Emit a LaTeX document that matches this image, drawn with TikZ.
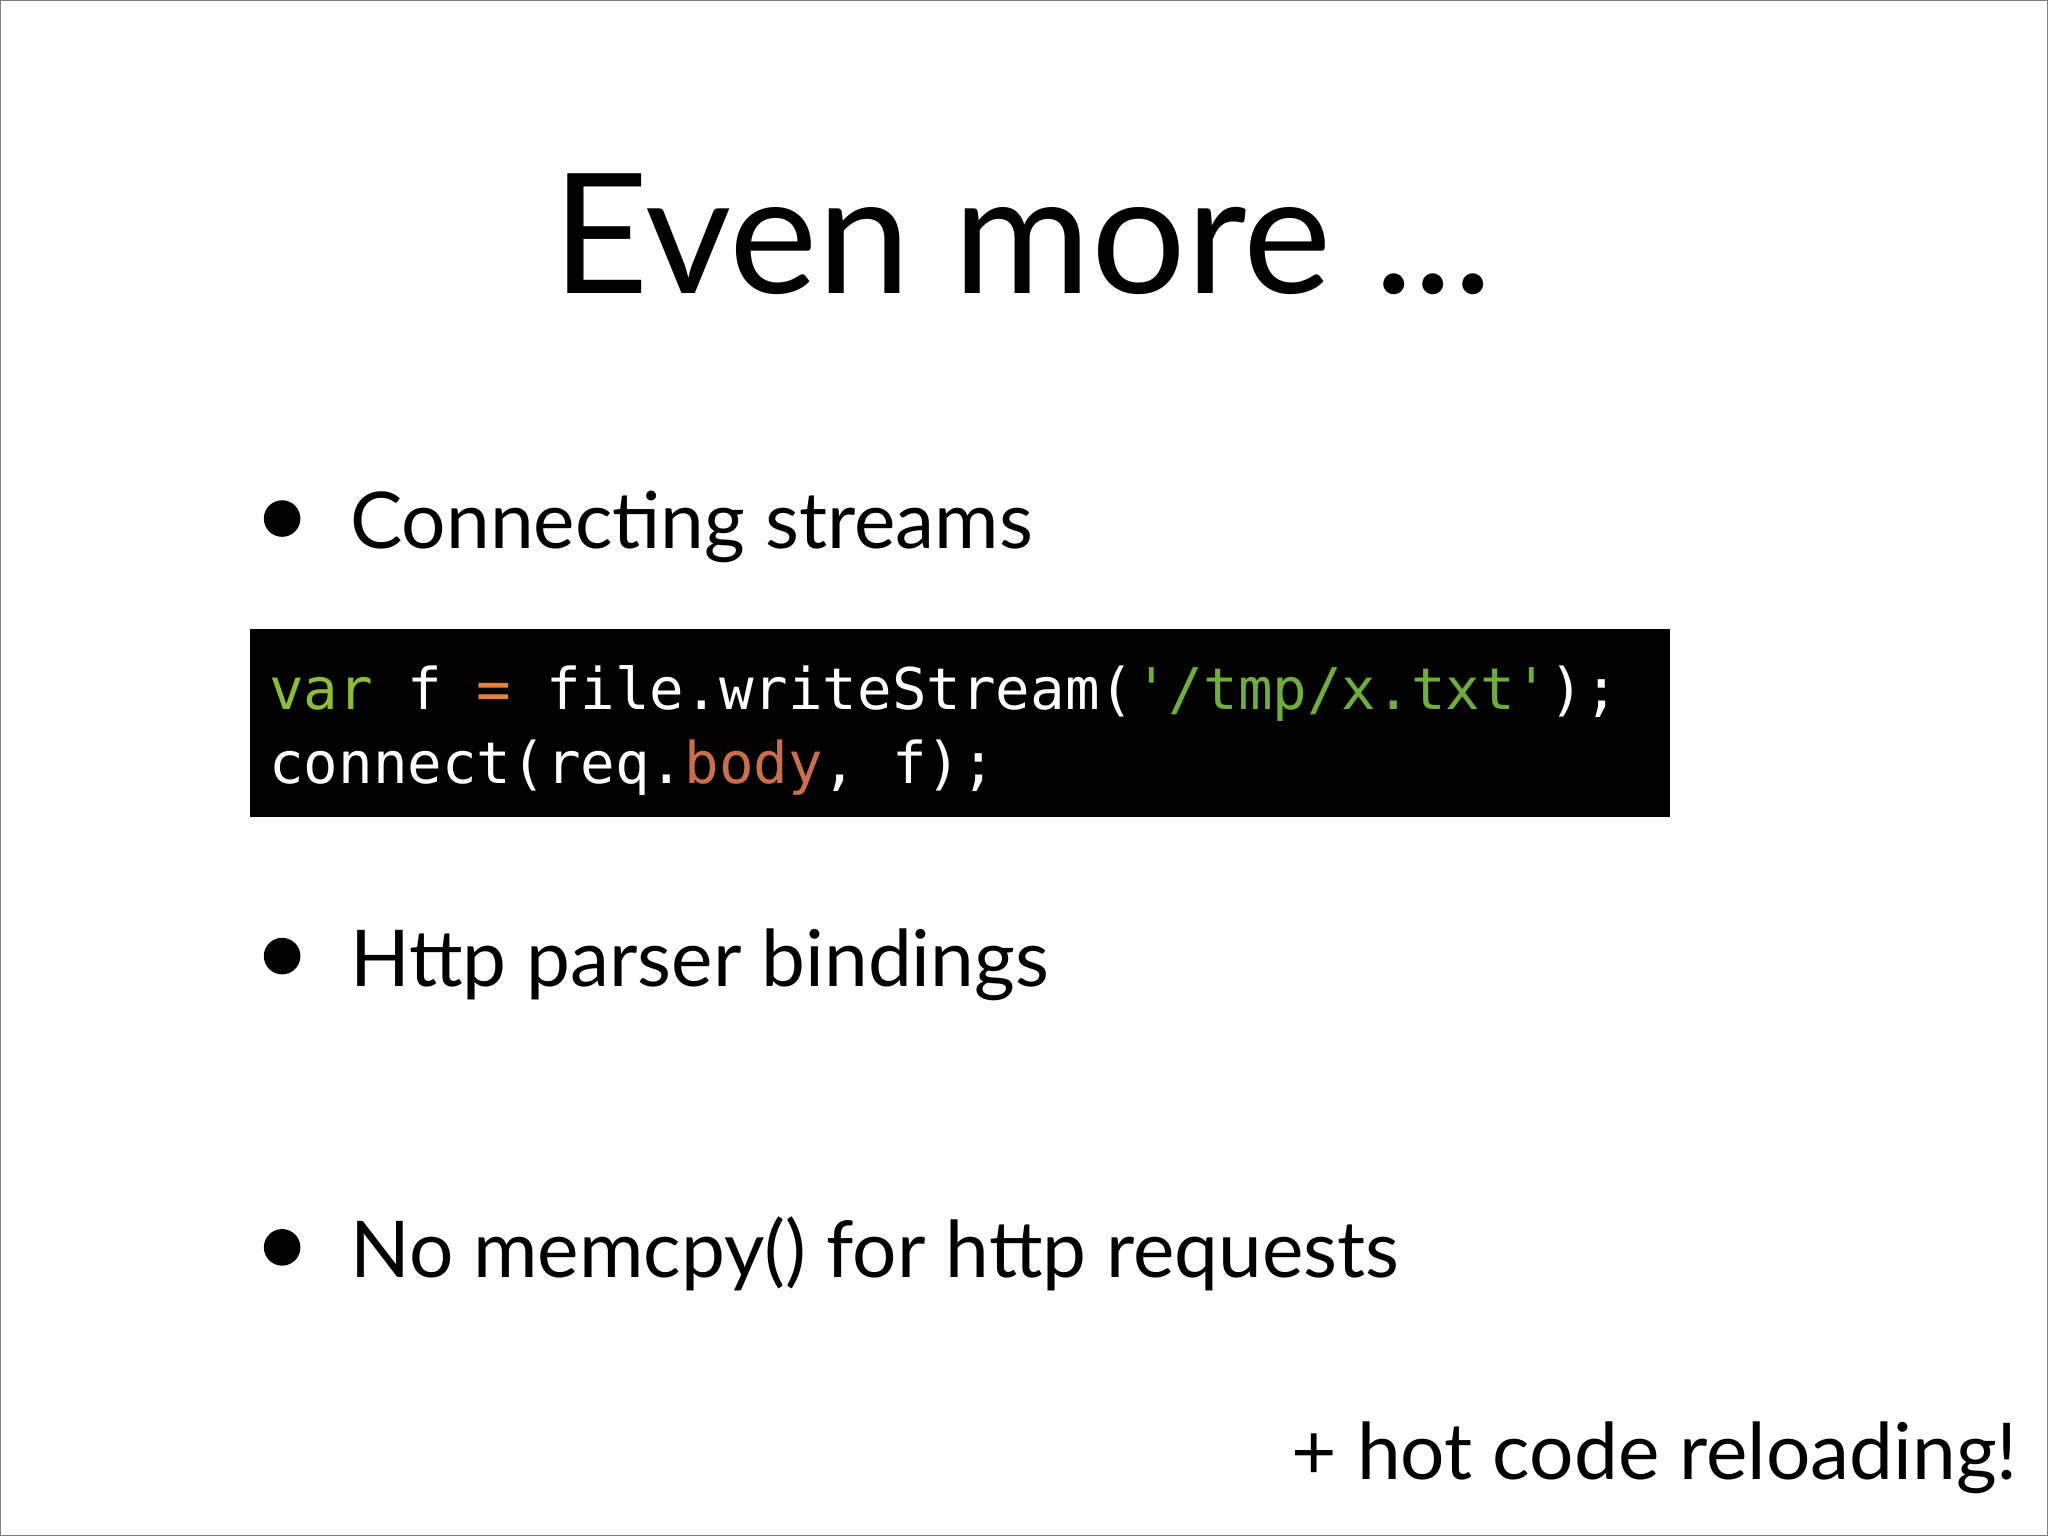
\documentclass[tikz,border=0pt]{standalone}
\usepackage{fontspec}
\setmainfont{Lato}
\setmonofont{DejaVu Sans Mono}
\definecolor{kw}{RGB}{140,190,50}
\definecolor{str}{RGB}{110,175,60}
\definecolor{op}{RGB}{230,130,60}
\definecolor{prop}{RGB}{205,110,75}
\begin{document}
\begin{tikzpicture}[x=1pt,y=-1pt,
  body/.style={anchor=base west,inner sep=0pt,font=\fontsize{60}{70}\selectfont},
  dot/.style={circle,fill=black,inner sep=0pt,minimum size=28pt}]
\useasboundingbox (0,0) rectangle (1568,1176);
\draw[gray,line width=1pt] (0.5,0.5) rectangle (1567.5,1175.5);
\node[anchor=base,inner sep=0pt,font=\fontsize{128}{140}\selectfont] (title) at (783,225) {Even more ...};
\node[dot] (b1) at (216,397) {};
\node[body] (t1) at (268,420) {Connecting streams};
\node[fill=black,minimum width=1087pt,minimum height=144pt,anchor=north west,inner sep=0pt] (code) at (191,481) {};
\node[anchor=base west,inner sep=0pt,text=white,font=\ttfamily\fontsize{44}{58}\selectfont] (c1) at (206,543) {\textcolor{kw}{var} f \textcolor{op}{=} file.writeStream(\textcolor{str}{'/tmp/x.txt'});};
\node[anchor=base west,inner sep=0pt,text=white,font=\ttfamily\fontsize{44}{58}\selectfont] (c2) at (206,600) {connect(req.\textcolor{prop}{body}, f);};
\node[dot] (b2) at (216,732) {};
\node[body] (t2) at (268,755) {Http parser bindings};
\node[dot] (b3) at (216,955) {};
\node[body] (t3) at (268,978) {No memcpy() for http requests};
\node[anchor=base east,inner sep=0pt,font=\fontsize{60}{70}\selectfont] (hot) at (1545,1133) {+ hot code reloading!};
\end{tikzpicture}
\end{document}
